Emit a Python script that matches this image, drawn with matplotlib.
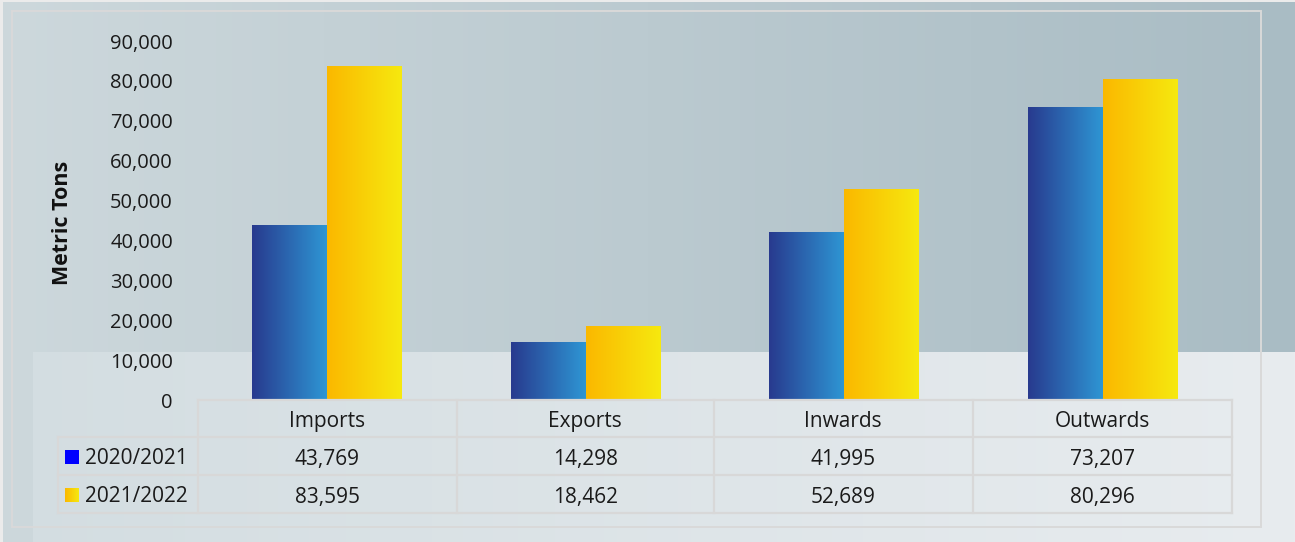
import numpy as np
from matplotlib import pyplot as plt
from matplotlib.colors import LinearSegmentedColormap, to_rgb
from matplotlib.patches import Rectangle
from matplotlib.lines import Line2D

plt.rcParams['font.family'] = ['Open Sans', 'DejaVu Sans']

categories = ['Imports', 'Exports', 'Inwards', 'Outwards']
series_names = ['2020/2021', '2021/2022']
values_2021 = [43769, 14298, 41995, 73207]
values_2022 = [83595, 18462, 52689, 80296]
y_ticks = [0, 10000, 20000, 30000, 40000, 50000, 60000, 70000, 80000, 90000]

W, H = 1295, 542
fig = plt.figure(figsize=(W / 100, H / 100), dpi=100)


def fx(px):
    return px / W


def fy(py):
    return 1 - py / H


def hgrad(c0, c1, n):
    c0, c1 = np.array(to_rgb(c0)), np.array(to_rgb(c1))
    t = np.linspace(0, 1, n)[:, None]
    return c0 * (1 - t) + c1 * t


# background: darker band on top, lighter band below
bg = np.ones((H, W, 3)) * np.array(to_rgb('#ebebeb'))
top = hgrad('#cdd8dc', '#a9bcc4', W)
low = hgrad('#d3dde1', '#e8ecef', W)
bg[2:352, 3:] = top[3:]
bg[352:, 3:] = top[3:]
bg[352:, 33:] = low[33:]
bax = fig.add_axes([0, 0, 1, 1], zorder=-5)
bax.imshow(bg, aspect='auto', interpolation='bilinear')
bax.axis('off')

# frame around the chart
fig.add_artist(Rectangle((fx(12), fy(527)), fx(1261) - fx(12), fy(11) - fy(527),
                         transform=fig.transFigure, fill=False,
                         edgecolor='#d9d9d9', linewidth=1.4))

ax = fig.add_axes([fx(198), fy(400), fx(1232) - fx(198), fy(41) - fy(400)])
ax.set_facecolor('none')

x = np.arange(len(categories))
w = 0.29
blue_cmap = LinearSegmentedColormap.from_list('b', ['#283a8e', '#2e96d4'])
gold_cmap = LinearSegmentedColormap.from_list('g', ['#fbb800', '#f6e90f'])
grad = np.linspace(0, 1, 256)[None, :]
for vals, off, cmap in [(values_2021, -w / 2, blue_cmap), (values_2022, w / 2, gold_cmap)]:
    bars = ax.bar(x + off, vals, w, color='none')
    for b in bars:
        x0, bw, bh = b.get_x(), b.get_width(), b.get_height()
        ax.imshow(grad, cmap=cmap, aspect='auto', extent=(x0, x0 + bw, 0, bh), zorder=2)

ax.set_xlim(-0.5, len(categories) - 0.5)
ax.set_ylim(0, 90000)
ax.set_yticks(y_ticks)
ax.set_yticklabels([f'{v:,}' for v in y_ticks], fontsize=14.5, color='#1a1a1a')
ax.tick_params(axis='y', length=0, pad=18)
ax.set_xticks([])
for s in ax.spines.values():
    s.set_visible(False)

fig.text(fx(62), fy(223), 'Metric Tons', rotation=90, ha='center', va='center',
         fontsize=15.5, fontweight='bold', color='#111111')

# data table under the bars
row_y = [400, 437, 475, 513]
col_x = [198, 456.5, 714, 972.5, 1232]
label_left = 58
line_kw = dict(transform=fig.transFigure, color='#d8d8d8', linewidth=1.6)
fig.add_artist(Line2D([fx(col_x[0]), fx(col_x[-1])], [fy(row_y[0])] * 2, **line_kw))
for ry in row_y[1:]:
    fig.add_artist(Line2D([fx(label_left), fx(col_x[-1])], [fy(ry)] * 2, **line_kw))
fig.add_artist(Line2D([fx(label_left)] * 2, [fy(row_y[1]), fy(row_y[-1])], **line_kw))
for cx in col_x:
    fig.add_artist(Line2D([fx(cx)] * 2, [fy(row_y[0]), fy(row_y[-1])], **line_kw))

txt_kw = dict(fontsize=15, color='#1a1a1a', va='center')
shift = 3  # text sits a little below the row middle
for i, cat in enumerate(categories):
    cx = (col_x[i] + col_x[i + 1]) / 2
    fig.text(fx(cx), fy((row_y[0] + row_y[1]) / 2 + shift), cat, ha='center', **txt_kw)
    fig.text(fx(cx), fy((row_y[1] + row_y[2]) / 2 + shift), f'{values_2021[i]:,}', ha='center', **txt_kw)
    fig.text(fx(cx), fy((row_y[2] + row_y[3]) / 2 + shift), f'{values_2022[i]:,}', ha='center', **txt_kw)

# legend keys in the row labels
for r, name in enumerate(series_names):
    cy = (row_y[r + 1] + row_y[r + 2]) / 2
    kax = fig.add_axes([fx(65), fy(cy + 1 + 7), fx(14), fy(0) - fy(14)])
    if r == 0:
        kax.imshow([[0]], cmap=LinearSegmentedColormap.from_list('k', ['#0000ff', '#0000ff']),
                   aspect='auto')
    else:
        kax.imshow(grad, cmap=gold_cmap, aspect='auto')
    kax.axis('off')
    fig.text(fx(85), fy(cy + shift), name, ha='left', **txt_kw)

fig.savefig('out.png', dpi=100)
